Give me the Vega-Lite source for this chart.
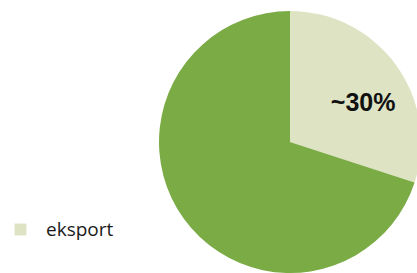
{
  "$schema": "https://vega.github.io/schema/vega-lite/v6.json",
  "autosize": {"type": "none"},
  "width": 254,
  "height": 262,
  "padding": {"left": 163, "top": 11, "right": 0, "bottom": 0},
  "background": "white",
  "data": {
    "values": [
      {"kategoria": "eksport", "udzial": 30, "kolejnosc": 1, "etykieta": "~30%"},
      {"kategoria": "kraj", "udzial": 70, "kolejnosc": 2, "etykieta": ""}
    ]
  },
  "encoding": {
    "theta": {"field": "udzial", "type": "quantitative", "stack": true},
    "order": {"field": "kolejnosc", "type": "quantitative"}
  },
  "layer": [
    {
      "mark": {"type": "arc", "outerRadius": 131},
      "encoding": {
        "color": {
          "field": "kategoria",
          "type": "nominal",
          "sort": ["eksport", "kraj"],
          "scale": {"domain": ["eksport", "kraj"], "range": ["#dde3c3", "#7bab45"]},
          "legend": {
            "values": ["eksport"],
            "title": null,
            "orient": "none",
            "legendX": -152,
            "legendY": 209,
            "symbolType": "square",
            "symbolSize": 140,
            "symbolStrokeWidth": 0,
            "labelFont": "Open Sans",
            "labelFontSize": 19,
            "labelColor": "#1a1a1a",
            "labelOffset": 16
          }
        }
      }
    },
    {
      "mark": {"type": "text", "radius": 83, "dx": 6, "dy": 10, "font": "Liberation Sans", "fontSize": 25, "fontWeight": "bold", "color": "#111111"},
      "encoding": {
        "text": {"field": "etykieta", "type": "nominal"}
      }
    }
  ]
}
